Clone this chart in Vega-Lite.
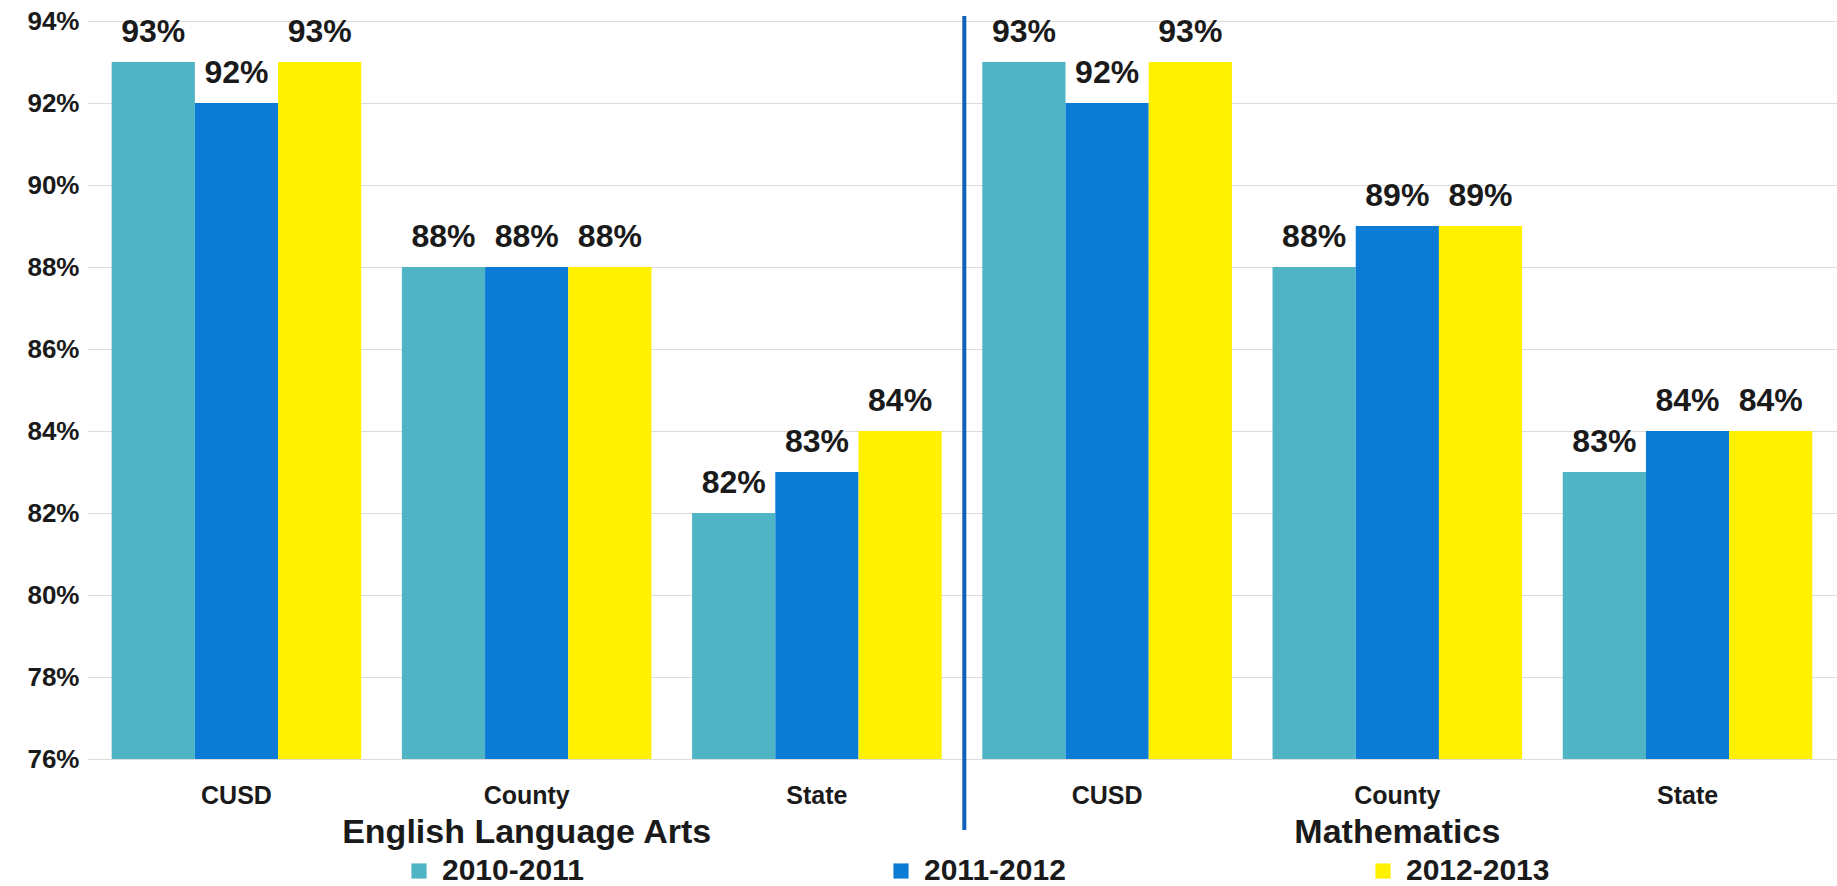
{
  "$schema": "https://vega.github.io/schema/vega-lite/v6.json",
  "width": 1750,
  "height": 738,
  "padding": {"left": 26, "top": 8, "right": 0, "bottom": 0},
  "background": "white",
  "config": {
    "font": "Liberation Sans",
    "view": {"stroke": null},
    "axis": {"labelFont": "Liberation Sans", "labelFontWeight": "bold", "labelColor": "#1a1a1a"}
  },
  "data": {
    "values": [
      {"cat": "ELA|CUSD", "year": "2010-2011", "value": 0.93},
      {"cat": "ELA|CUSD", "year": "2011-2012", "value": 0.92},
      {"cat": "ELA|CUSD", "year": "2012-2013", "value": 0.93},
      {"cat": "ELA|County", "year": "2010-2011", "value": 0.88},
      {"cat": "ELA|County", "year": "2011-2012", "value": 0.88},
      {"cat": "ELA|County", "year": "2012-2013", "value": 0.88},
      {"cat": "ELA|State", "year": "2010-2011", "value": 0.82},
      {"cat": "ELA|State", "year": "2011-2012", "value": 0.83},
      {"cat": "ELA|State", "year": "2012-2013", "value": 0.84},
      {"cat": "Math|CUSD", "year": "2010-2011", "value": 0.93},
      {"cat": "Math|CUSD", "year": "2011-2012", "value": 0.92},
      {"cat": "Math|CUSD", "year": "2012-2013", "value": 0.93},
      {"cat": "Math|County", "year": "2010-2011", "value": 0.88},
      {"cat": "Math|County", "year": "2011-2012", "value": 0.89},
      {"cat": "Math|County", "year": "2012-2013", "value": 0.89},
      {"cat": "Math|State", "year": "2010-2011", "value": 0.83},
      {"cat": "Math|State", "year": "2011-2012", "value": 0.84},
      {"cat": "Math|State", "year": "2012-2013", "value": 0.84}
    ]
  },
  "layer": [
    {
      "mark": {"type": "bar"},
      "encoding": {
        "x": {
          "field": "cat", "type": "nominal", "title": null,
          "sort": ["ELA|CUSD", "ELA|County", "ELA|State", "Math|CUSD", "Math|County", "Math|State"],
          "scale": {"domain": ["ELA|CUSD", "ELA|County", "ELA|State", "Math|CUSD", "Math|County", "Math|State"], "paddingInner": 0.14, "paddingOuter": 0.085},
          "axis": {
            "labelExpr": "split(datum.value, '|')[1]",
            "labelAngle": 0, "labelFontSize": 25, "labelPadding": 24,
            "domain": false, "ticks": false, "grid": false
          }
        },
        "xOffset": {"field": "year", "type": "nominal", "scale": {"paddingInner": 0, "paddingOuter": 0}},
        "y": {
          "field": "value", "type": "quantitative", "title": null,
          "scale": {"domain": [0.76, 0.94], "nice": false, "zero": false},
          "axis": {
            "values": [0.76, 0.78, 0.8, 0.82, 0.84, 0.86, 0.88, 0.9, 0.92, 0.94],
            "format": ".0%", "labelFontSize": 26, "labelPadding": 8,
            "domain": false, "ticks": false, "tickSize": 0,
            "grid": true, "gridColor": "#dcdcdc", "gridWidth": 1
          }
        },
        "y2": {"datum": 0.76},
        "color": {
          "field": "year", "type": "nominal",
          "scale": {"domain": ["2010-2011", "2011-2012", "2012-2013"], "range": ["#4FB4C4", "#0B7BD6", "#FFF100"]},
          "legend": {
            "title": null, "orient": "none", "direction": "horizontal", "columns": 3,
            "legendX": 317, "legendY": 835,
            "symbolType": "square", "symbolSize": 230, "symbolStrokeWidth": 0,
            "labelFont": "Liberation Sans", "labelFontWeight": "bold", "labelFontSize": 30,
            "labelColor": "#1a1a1a", "labelOffset": 8, "columnPadding": 302, "padding": 0
          }
        }
      }
    },
    {
      "mark": {"type": "text", "baseline": "alphabetic", "dy": -20, "fontSize": 32, "fontWeight": "bold", "color": "#1a1a1a"},
      "encoding": {
        "x": {"field": "cat", "type": "nominal"},
        "xOffset": {"field": "year", "type": "nominal"},
        "y": {"field": "value", "type": "quantitative"},
        "text": {"field": "value", "type": "quantitative", "format": ".0%"}
      }
    },
    {
      "data": {"values": [{"cat": "Math|CUSD"}]},
      "mark": {"type": "rule", "color": "#1062B8", "strokeWidth": 4, "xOffset": -18},
      "encoding": {
        "x": {"field": "cat", "type": "nominal", "bandPosition": 0},
        "y": {"datum": 0.9412, "type": "quantitative"},
        "y2": {"datum": 0.7427}
      }
    },
    {
      "data": {"values": [{"cat": "ELA|County", "subject": "English Language Arts"}, {"cat": "Math|County", "subject": "Mathematics"}]},
      "mark": {"type": "text", "baseline": "alphabetic", "fontSize": 34, "fontWeight": "bold", "color": "#1a1a1a"},
      "encoding": {
        "x": {"field": "cat", "type": "nominal"},
        "y": {"datum": 0.7395, "type": "quantitative"},
        "text": {"field": "subject"}
      }
    }
  ]
}
